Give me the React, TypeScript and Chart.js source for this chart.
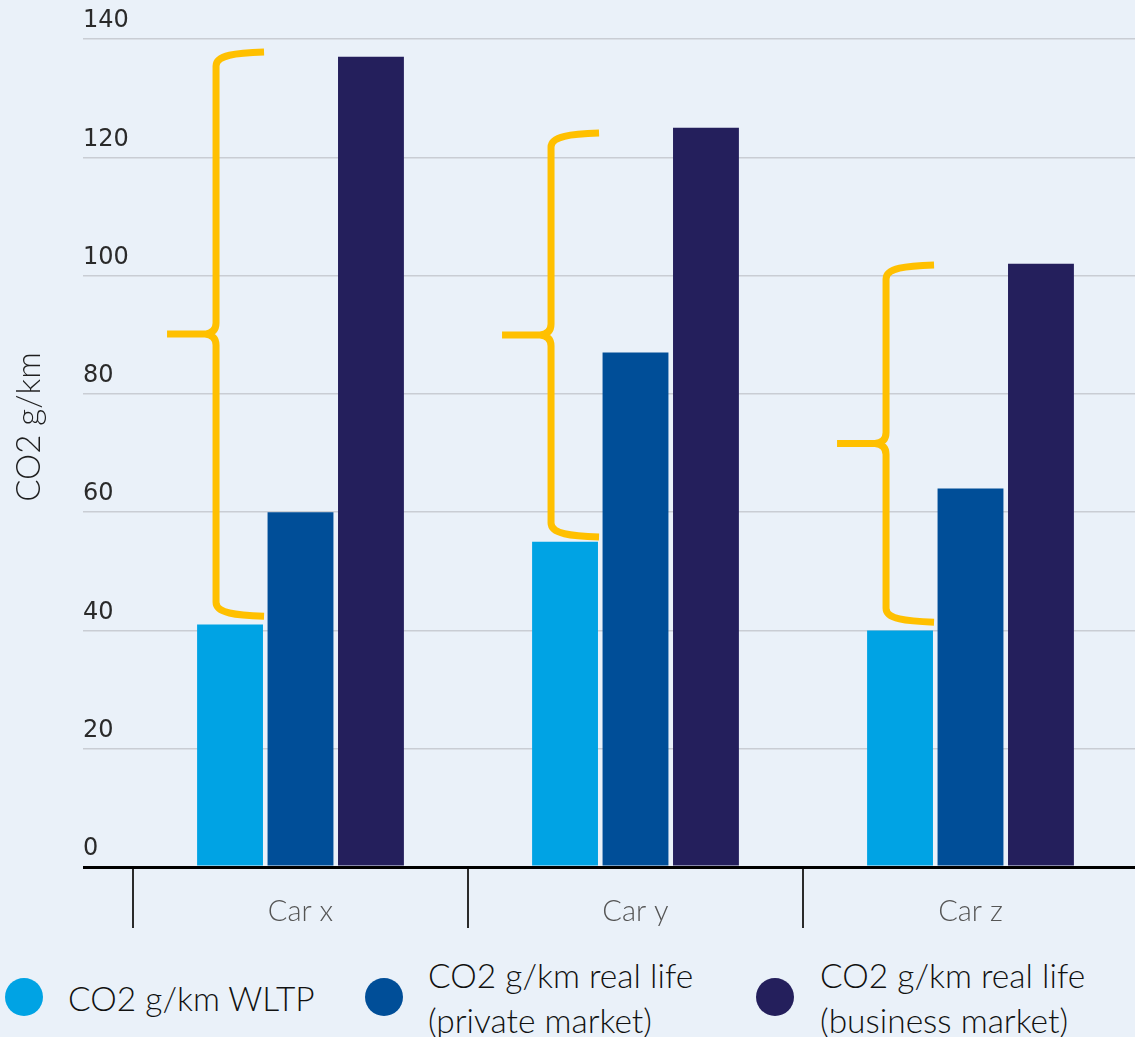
import React, { useEffect, useRef } from 'react';
import { Chart, registerables } from 'chart.js';

Chart.register(...registerables);

const categories = ['Car x', 'Car y', 'Car z'];
const wltp = [41, 55, 40];
const privateMarket = [60, 87, 64];
const businessMarket = [137, 125, 102];
const braceLow = [42.4, 55.8, 41.4];
const braceHigh = [137.8, 124.1, 101.8];
const yTicks = [0, 20, 40, 60, 80, 100, 120, 140];
const seriesLabels = [
  ['CO2 g/km WLTP'],
  ['CO2 g/km real life', '(private market)'],
  ['CO2 g/km real life', '(business market)'],
];
const seriesColors = ['#00A3E4', '#004E98', '#241F5C'];
const yTitle = 'CO2 g/km';

const LIGHT_FONT = 'Lato, "Open Sans", sans-serif';

const bracePlugin = {
  id: 'braces',
  afterDatasetsDraw(chart: any) {
    const meta = chart.getDatasetMeta(0);
    const y = chart.scales.y;
    const ctx = chart.ctx;
    ctx.save();
    ctx.strokeStyle = '#FFC000';
    ctx.lineWidth = 7;
    ctx.lineJoin = 'round';
    ctx.lineCap = 'butt';
    meta.data.forEach((bar: any, i: number) => {
      const cx = bar.x;
      const stem = cx - 14;
      const tip = cx - 63;
      const end = cx + 34;
      const T = y.getPixelForValue(braceHigh[i]);
      const B = y.getPixelForValue(braceLow[i]);
      const M = (T + B) / 2;
      ctx.beginPath();
      ctx.moveTo(end, T);
      ctx.bezierCurveTo(stem + 20, T + 1, stem, T + 3, stem, T + 14);
      ctx.lineTo(stem, M - 11);
      ctx.quadraticCurveTo(stem, M - 1, stem - 11, M);
      ctx.lineTo(tip, M);
      ctx.moveTo(stem - 11, M);
      ctx.quadraticCurveTo(stem, M + 1, stem, M + 11);
      ctx.lineTo(stem, B - 14);
      ctx.bezierCurveTo(stem, B - 3, stem + 20, B - 1, end, B);
      ctx.stroke();
    });
    ctx.restore();
  },
};

const titlePlugin = {
  id: 'yTitle',
  afterDraw(chart: any) {
    const ctx = chart.ctx;
    const area = chart.chartArea;
    ctx.save();
    ctx.translate(40, (area.top + area.bottom) / 2 - 26);
    ctx.rotate(-Math.PI / 2);
    ctx.font = `300 33px ${LIGHT_FONT}`;
    ctx.fillStyle = '#1e1e1e';
    ctx.textAlign = 'center';
    ctx.textBaseline = 'alphabetic';
    ctx.fillText(yTitle, 0, 0);
    ctx.restore();
  },
};

const legendPos = [
  { circle: 5, text: 68 },
  { circle: 365, text: 428 },
  { circle: 756, text: 820 },
];

export default function App() {
  const ref = useRef<HTMLCanvasElement>(null);

  useEffect(() => {
    const series = [wltp, privateMarket, businessMarket];
    const chart = new Chart(ref.current as HTMLCanvasElement, {
      type: 'bar',
      data: {
        labels: categories,
        datasets: series.map((d, i) => ({
          label: seriesLabels[i].join(' '),
          data: d,
          backgroundColor: seriesColors[i],
          borderWidth: 0,
          categoryPercentage: 0.631,
          barPercentage: 0.935,
        })),
      },
      options: {
        responsive: false,
        animation: false,
        devicePixelRatio: 1,
        layout: { padding: { top: 39, left: 0, right: 2, bottom: 0 } },
        plugins: { legend: { display: false }, tooltip: { enabled: false } },
        scales: {
          x: {
            grid: {
              offset: true,
              drawOnChartArea: false,
              drawTicks: true,
              tickLength: 61,
              color: '#2b2b2b',
              lineWidth: 2,
            },
            border: { display: false },
            ticks: {
              padding: -34,
              color: '#555555',
              font: { family: LIGHT_FONT, size: 29, weight: '300' },
            },
            afterFit: (s: any) => {
              s.height = 78;
            },
          },
          y: {
            min: 0,
            max: 140,
            afterBuildTicks: (s: any) => {
              s.ticks = yTicks.map((v) => ({ value: v }));
            },
            grid: {
              color: (c: any) => (c.tick && c.tick.value === 0 ? '#000000' : '#c9cdd4'),
              lineWidth: (c: any) => (c.tick && c.tick.value === 0 ? 3 : 1.5),
              tickLength: 50,
              drawTicks: true,
            },
            border: { display: false },
            ticks: {
              mirror: true,
              padding: -50,
              labelOffset: -18,
              color: '#2a2a2a',
              font: { family: '"DejaVu Sans", sans-serif', size: 24 },
            },
            afterFit: (s: any) => {
              s.width = 133;
            },
          },
        },
      } as any,
      plugins: [bracePlugin, titlePlugin],
    });
    return () => chart.destroy();
  }, []);

  return (
    <div
      style={{
        position: 'absolute',
        left: 0,
        top: 0,
        width: 1135,
        height: 1037,
        overflow: 'hidden',
        background: '#EAF1F9',
      }}
    >
      <canvas
        ref={ref}
        width={1140}
        height={945}
        style={{ position: 'absolute', left: 0, top: 0, width: 1140, height: 945 }}
      />
      {seriesLabels.map((lines, i) => (
        <React.Fragment key={i}>
          <div
            style={{
              position: 'absolute',
              left: legendPos[i].circle,
              top: 978,
              width: 38,
              height: 38,
              borderRadius: '50%',
              background: seriesColors[i],
            }}
          />
          <div
            style={{
              position: 'absolute',
              left: legendPos[i].text,
              top: lines.length === 1 ? 976 : 953,
              fontFamily: LIGHT_FONT,
              fontWeight: 300,
              fontSize: 33.5,
              lineHeight: '45px',
              color: '#111111',
              whiteSpace: 'nowrap',
            }}
          >
            {lines.map((l, j) => (
              <div key={j}>{l}</div>
            ))}
          </div>
        </React.Fragment>
      ))}
    </div>
  );
}
